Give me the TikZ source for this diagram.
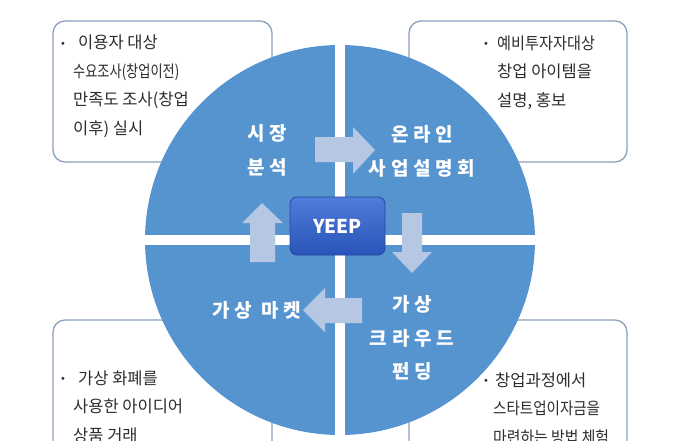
\documentclass[tikz,border=0pt]{standalone}
\usepackage{fontspec}
\newfontfamily\krfont{Noto Sans CJK KR}
\newfontfamily\krwide[LetterSpace=25]{Noto Sans CJK KR}
\definecolor{pieblue}{RGB}{86,148,208}
\definecolor{arrowblue}{RGB}{182,199,228}
\definecolor{boxline}{RGB}{138,160,188}
\definecolor{boxtext}{RGB}{45,45,45}
\definecolor{yeeptop}{RGB}{80,124,218}
\definecolor{yeepbottom}{RGB}{42,84,186}
\newcommand{\narrowline}[2]{\scalebox{#1}[1]{#2}}
\tikzset{
  notebox/.style={draw=boxline,line width=1.3pt,rounded corners=12pt,fill=white},
  notetext/.style={anchor=base west,align=left,inner sep=0pt,text=boxtext,font=\krfont\fontsize{16.5}{28.4}\selectfont},
  bulletmark/.style={inner sep=0pt,text=boxtext,font=\fontsize{11}{11}\selectfont},
  steptext/.style={align=center,text=white,inner sep=0pt,font=\krwide\bfseries\fontsize{19}{34}\selectfont},
  flow/.style={fill=arrowblue},
  yeepbox/.style={draw=yeepbottom!85!black,line width=.8pt,rounded corners=7pt,top color=yeeptop,bottom color=yeepbottom,text=white,minimum width=95pt,minimum height=58pt,font=\krfont\bfseries\fontsize{19}{19}\selectfont}
}
\begin{document}
\begin{tikzpicture}[line join=round,x=1pt,y=-1pt]
		\useasboundingbox (0,0) rectangle (700,440);
		\clip (0,0) rectangle (700,440);
		\draw [notebox] (53,21) rectangle (272,162);
		\draw [notebox] (409,21) rectangle (627,162);
		\draw [notebox] (53,320) rectangle (272,480);
		\draw [notebox] (409,320) rectangle (627,480);
		\node [bulletmark] (bulletA) at (63,44) {\textbullet};
		\node [notetext] (noteA) at (73,134) {\hspace{5pt}이용자 대상\\\narrowline{0.8}{수요조사(창업이전)}\\만족도 조사(창업\\이후) 실시};
		\node [bulletmark] (bulletB) at (486,44) {\textbullet};
		\node [notetext] (noteB) at (497,106) {\narrowline{0.92}{예비투자자대상}\\창업 아이템을\\설명, 홍보};
		\node [bulletmark] (bulletC) at (63,379) {\textbullet};
		\node [notetext] (noteC) at (73,441) {\hspace{5pt}가상 화폐를\\사용한 아이디어\\상품 거래};
		\node [bulletmark] (bulletD) at (486,381) {\textbullet};
		\node [notetext] (noteD) at (493,443) {\hspace{2pt}창업과정에서\\\narrowline{0.88}{스타트업이자금을}\\\narrowline{0.9}{마련하는 방법 체험}};
		\fill [pieblue] (340,240) circle (195);
		\begin{scope}
		\clip (340,240) circle (195);
		\fill [white] (335,0) rectangle (345,440);
		\fill [white] (0,235) rectangle (700,245);
		\end{scope}
		\fill [flow] (315,137)--(353,137)--(353,127)--(375,150)--(353,174)--(353,162)--(315,162)--cycle;
		\fill [flow] (402,213)--(422,213)--(422,252)--(432,252)--(412,273)--(392,252)--(402,252)--cycle;
		\fill [flow] (362,298)--(325,298)--(325,288)--(303,310)--(325,332)--(325,323)--(362,323)--cycle;
		\fill [flow] (250,262)--(250,223)--(242,223)--(262,203)--(283,223)--(275,223)--(275,262)--cycle;
		\node [yeepbox] (yeep) at (337.5,226) {YEEP};
		\node [steptext] (analysis) at (267,150) {시장\\분석};
		\node [steptext] (briefing) at (422,151) {온라인\\사업설명회};
		\node [steptext, font=\krwide\bfseries\fontsize{19}{33.5}\selectfont] (funding) at (412,338) {가상\\크라우드\\펀딩};
		\node [steptext] (market) at (257,310) {가상 마켓};
		\end{tikzpicture}
\end{document}
